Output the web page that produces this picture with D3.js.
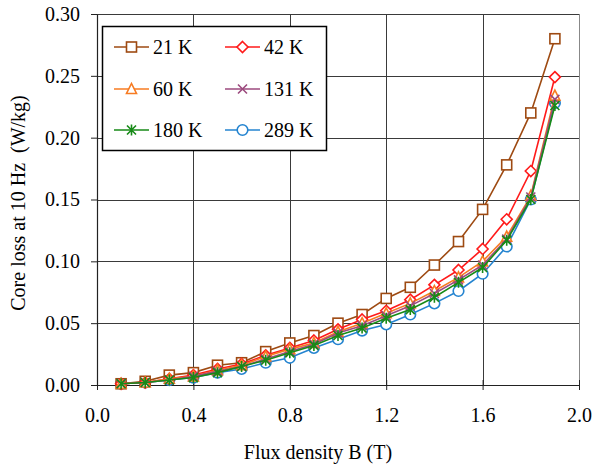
<!DOCTYPE html>
<html>
<head>
<meta charset="utf-8">
<title>Core loss vs flux density</title>
<script src="https://d3js.org/d3.v7.min.js"></script>
<style>
  body { margin: 0; background: #fff; }
  text { font-family: "Liberation Serif", "Times New Roman", serif; fill: #000; }
</style>
</head>
<body>
<div id="chart"></div>
<script>
// flux density B (T)
var fluxB = [0.1, 0.2, 0.3, 0.4, 0.5, 0.6, 0.7, 0.8, 0.9, 1.0, 1.1, 1.2, 1.3, 1.4, 1.5, 1.6, 1.7, 1.8, 1.9];

// core loss at 10 Hz (W/kg), one array per temperature
var loss21K  = [0.001, 0.003, 0.008, 0.010, 0.016, 0.018, 0.027, 0.034, 0.040, 0.050, 0.057, 0.070, 0.079, 0.097, 0.116, 0.142, 0.178, 0.220, 0.280];
var loss42K  = [0.001, 0.002, 0.005, 0.008, 0.013, 0.017, 0.024, 0.030, 0.036, 0.045, 0.053, 0.060, 0.069, 0.081, 0.093, 0.110, 0.134, 0.173, 0.249];
var loss60K  = [0.001, 0.002, 0.005, 0.007, 0.012, 0.016, 0.023, 0.029, 0.034, 0.043, 0.050, 0.058, 0.066, 0.076, 0.087, 0.100, 0.120, 0.153, 0.234];
var loss131K = [0.001, 0.002, 0.004, 0.007, 0.011, 0.015, 0.021, 0.027, 0.033, 0.042, 0.048, 0.056, 0.064, 0.074, 0.085, 0.097, 0.118, 0.152, 0.231];
var loss180K = [0.001, 0.002, 0.004, 0.006, 0.010, 0.015, 0.020, 0.026, 0.032, 0.040, 0.046, 0.054, 0.061, 0.071, 0.083, 0.095, 0.117, 0.150, 0.226];
var loss289K = [0.001, 0.002, 0.004, 0.006, 0.010, 0.013, 0.018, 0.022, 0.030, 0.037, 0.044, 0.049, 0.057, 0.066, 0.076, 0.090, 0.112, 0.150, 0.228];

var seriesNames = ["21 K", "42 K", "60 K", "131 K", "180 K", "289 K"];
var xTicks = [0.0, 0.4, 0.8, 1.2, 1.6, 2.0];
var yTicks = [0.00, 0.05, 0.10, 0.15, 0.20, 0.25, 0.30];

var series = [
  { name: seriesNames[0], values: loss21K,  color: "#9e4a12", marker: "square" },
  { name: seriesNames[1], values: loss42K,  color: "#ff1a1a", marker: "diamond" },
  { name: seriesNames[2], values: loss60K,  color: "#f77b22", marker: "triangle" },
  { name: seriesNames[3], values: loss131K, color: "#9c4a7e", marker: "cross" },
  { name: seriesNames[4], values: loss180K, color: "#178a17", marker: "star" },
  { name: seriesNames[5], values: loss289K, color: "#2484d0", marker: "circle" }
];
// draw order: blue goes under the rest
var drawOrder = [5, 0, 1, 2, 3, 4];

var W = 594, H = 466;
var margin = { top: 14, right: 15, bottom: 81, left: 97 };
var width = W - margin.left - margin.right,
    height = H - margin.top - margin.bottom;

var svg = d3.select("#chart").append("svg")
  .attr("width", W).attr("height", H);

var g = svg.append("g")
  .attr("transform", "translate(" + margin.left + "," + margin.top + ")");

var x = d3.scaleLinear().domain([0, 2]).range([0, width]);
var y = d3.scaleLinear().domain([0, 0.3]).range([height, 0]);

// grid
g.append("g").selectAll("line.h")
  .data(yTicks.slice(1))
  .enter().append("line")
  .attr("x1", 0).attr("x2", width)
  .attr("y1", function (d) { return Math.round(y(d)) + 0.5; })
  .attr("y2", function (d) { return Math.round(y(d)) + 0.5; })
  .attr("stroke", "#3a3a3a").attr("stroke-width", 1);

g.append("g").selectAll("line.v")
  .data(xTicks.slice(1))
  .enter().append("line")
  .attr("y1", 0).attr("y2", height)
  .attr("x1", function (d) { return Math.round(x(d)) + 0.5; })
  .attr("x2", function (d) { return Math.round(x(d)) + 0.5; })
  .attr("stroke", function (d) { return d == 2 ? "#888" : "#3a3a3a"; })
  .attr("stroke-width", 1);

// axes
var yAxis = g.append("g")
  .call(d3.axisLeft(y).tickValues(yTicks).tickFormat(d3.format(".2f")).tickSizeInner(6).tickSizeOuter(0).tickPadding(11));
var xAxis = g.append("g")
  .attr("transform", "translate(0," + height + ")")
  .call(d3.axisBottom(x).tickValues(xTicks).tickFormat(d3.format(".1f")).tickSizeInner(5).tickSizeOuter(0).tickPadding(18));

[yAxis, xAxis].forEach(function (ax) {
  ax.select(".domain").attr("stroke", "#222").attr("stroke-width", 1.2);
  ax.selectAll(".tick line").attr("stroke", "#222");
  ax.selectAll(".tick text").style("font-size", "20px").attr("fill", "#000")
    .style("font-family", "'Liberation Serif', serif");
});
xAxis.selectAll(".tick line").attr("y1", -5);

// axis titles
svg.append("text")
  .attr("x", margin.left + width / 2 - 20).attr("y", 459)
  .attr("text-anchor", "middle")
  .style("font-size", "20px")
  .text("Flux density B (T)");

svg.append("text")
  .attr("transform", "translate(25," + 203 + ") rotate(-90)")
  .attr("text-anchor", "middle")
  .style("font-size", "20px")
  .style("white-space", "pre")
  .text("Core loss at 10 Hz  (W/kg)");

// marker shapes
function drawMarker(sel, type, color) {
  var s = 5;
  if (type == "square") {
    sel.append("rect").attr("x", -s).attr("y", -s).attr("width", 2 * s).attr("height", 2 * s)
      .attr("fill", "#fff").attr("stroke", color).attr("stroke-width", 1.6);
  } else if (type == "diamond") {
    sel.append("path").attr("d", "M0,-5.5L5.5,0L0,5.5L-5.5,0Z")
      .attr("fill", "#fff").attr("stroke", color).attr("stroke-width", 1.6);
  } else if (type == "triangle") {
    sel.append("path").attr("d", "M0,-5.5L5,4.5L-5,4.5Z")
      .attr("fill", "#fff").attr("stroke", color).attr("stroke-width", 1.6);
  } else if (type == "circle") {
    sel.append("circle").attr("r", 5.3)
      .attr("fill", "#fff").attr("stroke", color).attr("stroke-width", 1.6);
  } else if (type == "cross") {
    sel.append("path").attr("d", "M-4.5,-4.5L4.5,4.5M-4.5,4.5L4.5,-4.5")
      .attr("fill", "none").attr("stroke", color).attr("stroke-width", 1.6);
  } else if (type == "star") {
    sel.append("path").attr("d", "M-4.5,-4.5L4.5,4.5M-4.5,4.5L4.5,-4.5M0,-5.5L0,5.5")
      .attr("fill", "none").attr("stroke", color).attr("stroke-width", 1.6);
  }
}

var line = d3.line()
  .x(function (d, i) { return x(fluxB[i]); })
  .y(function (d) { return y(d); });

drawOrder.forEach(function (k) {
  var s = series[k];
  var sg = g.append("g");
  sg.append("path")
    .datum(s.values)
    .attr("d", line)
    .attr("fill", "none")
    .attr("stroke", s.color)
    .attr("stroke-width", 1.6);
  s.values.forEach(function (v, i) {
    var m = sg.append("g").attr("transform", "translate(" + x(fluxB[i]) + "," + y(v) + ")");
    drawMarker(m, s.marker, s.color);
  });
});

// legend
var legend = svg.append("g");
legend.append("rect")
  .attr("x", 102.5).attr("y", 26.5).attr("width", 224).attr("height", 124)
  .attr("fill", "#fff").attr("stroke", "#000").attr("stroke-width", 1.5);

var rowY = [47, 89, 130];
var colX = [114, 225];
series.forEach(function (s, i) {
  var cx = colX[i % 2], cy = rowY[Math.floor(i / 2)];
  var item = legend.append("g").attr("transform", "translate(" + cx + "," + cy + ")");
  item.append("line").attr("x1", 0).attr("x2", 35).attr("y1", 0).attr("y2", 0)
    .attr("stroke", s.color).attr("stroke-width", 1.6);
  var m = item.append("g").attr("transform", "translate(17.5,0)");
  drawMarker(m, s.marker, s.color);
  item.append("text").attr("x", 39).attr("y", 7)
    .style("font-size", "20px")
    .text(s.name);
});
</script>
</body>
</html>
